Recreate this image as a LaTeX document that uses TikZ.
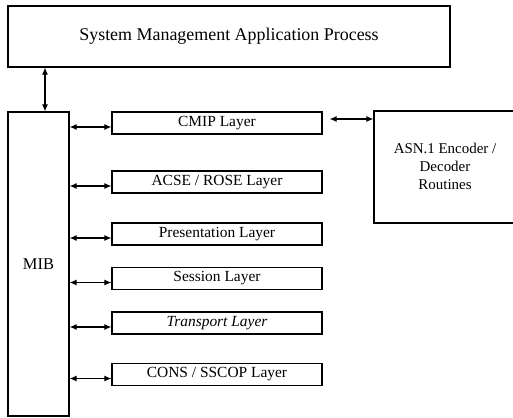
\documentclass[tikz,border=0pt]{standalone}
\usepackage{fontspec}
\setmainfont{Liberation Serif}
\usetikzlibrary{arrows.meta}
\begin{document}
\begin{tikzpicture}[x=1bp,y=-1bp,
  box/.style={draw, line width=1.2bp, inner sep=0pt, align=center},
  layer/.style={box, minimum width=210bp, minimum height=22bp, font=\fontsize{15.5}{17}\selectfont},
  link/.style={line width=1.1bp, {Latex[length=7bp,width=6bp]}-{Latex[length=7bp,width=6bp]}}]
\useasboundingbox (0,0) rectangle (513,417);
\node[box, minimum width=442bp, minimum height=61bp, font=\fontsize{18}{20}\selectfont] (smap) at (229,36.5) {System Management Application Process};
\node[box, minimum width=61bp, minimum height=304bp, font=\fontsize{16.5}{18}\selectfont] (mib) at (38.5,264) {MIB};
\node[layer] (cmip) at (217,123) {CMIP Layer};
\node[layer] (acse) at (217,182) {ACSE / ROSE Layer};
\node[layer] (pres) at (217,234) {Presentation Layer};
\node[layer] (sess) at (217,278.5) {Session Layer};
\node[layer] (trans) at (217,323) {\itshape Transport Layer};
\node[layer] (cons) at (217,374.5) {CONS / SSCOP Layer};
\node[box, minimum width=146bp, minimum height=112bp] (asn) at (447,167) {};
\node[font=\fontsize{15}{18}\selectfont, align=center] (asntext) at (445,166) {ASN.1 Encoder /\\Decoder\\Routines};
\draw[link] (smap.south -| 45,0) -- (mib.north -| 45,0);
\foreach \n in {cmip,acse,pres,sess,trans,cons}{
  \draw[link] ([yshift=-4bp]mib.east |- \n.west) -- ([yshift=-4bp]\n.west);
}
\coordinate (cmipout) at ([xshift=7bp,yshift=4bp]cmip.east);
\draw[link] (cmipout) -- (asn.west |- cmipout);
\end{tikzpicture}
\end{document}
